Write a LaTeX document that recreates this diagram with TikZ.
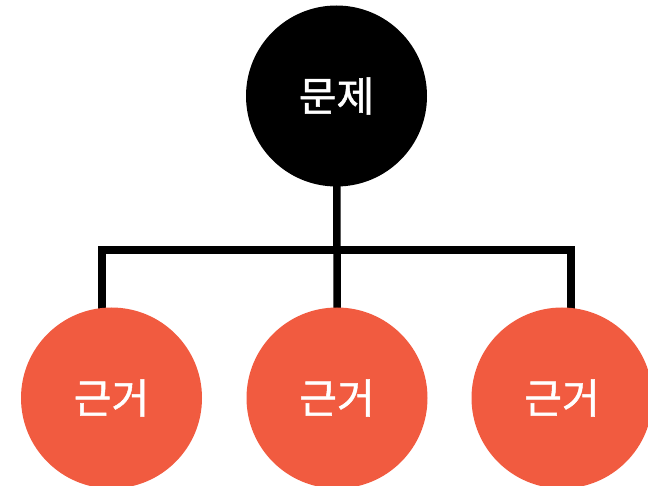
\documentclass[tikz,border=0pt]{standalone}
\usepackage{fontspec}
\usetikzlibrary{backgrounds}
\newfontfamily\kr[FakeBold=1.2]{Noto Sans CJK KR}
\definecolor{redc}{HTML}{F15B40}
\tikzset{
  topc/.style={circle, fill=black, minimum size=181pt, inner sep=0pt, text=white, font=\kr\fontsize{41}{43}\selectfont},
  botc/.style={circle, fill=redc, minimum size=181pt, inner sep=0pt, text=white, font=\kr\fontsize{41}{43}\selectfont},
  conn/.style={line width=7.5pt, draw=black}
}
\begin{document}
\begin{tikzpicture}[x=1pt,y=-1pt]
\useasboundingbox (0,0) rectangle (648,486);
\coordinate (j) at (337,250);
\coordinate (jl) at (102,250);
\coordinate (jr) at (571,250);
\node[topc] (p) at (336.5,96) {문제};
\node[botc] (a) at (111.5,398) {근거};
\node[botc] (b) at (337,398) {근거};
\node[botc] (c) at (562,398) {근거};
\begin{scope}[on background layer]
\draw[conn] ([xshift=-3.75pt]jl) -- ([xshift=3.75pt]jr);
\draw[conn] (p.center) -- (j) -- (b.center);
\draw[conn] (jl) -- (jl |- a.center);
\draw[conn] (jr) -- (jr |- c.center);
\end{scope}
\end{tikzpicture}
\end{document}
